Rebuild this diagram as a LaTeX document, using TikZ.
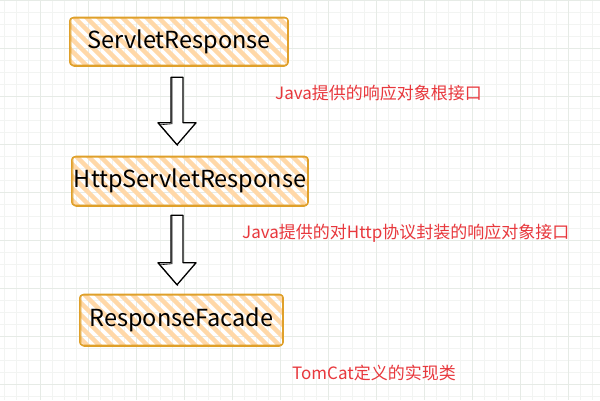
\documentclass[tikz,border=0pt]{standalone}
\usepackage{fontspec}
\setmainfont{Noto Sans CJK SC}
\usetikzlibrary{calc}
\definecolor{gridminor}{HTML}{F2F4F2}
\definecolor{gridmajor}{HTML}{E6EBE6}
\definecolor{boxline}{HTML}{DFA02A}
\definecolor{hatch}{HTML}{FFD8A8}
\definecolor{notered}{HTML}{E8383D}
\tikzset{
  stripebox/.style={rounded corners=3pt, inner sep=0pt, font=\fontsize{23.5}{25}\selectfont,
    path picture={
      \foreach \i in {-6,...,26}
        \draw[hatch, line width=4.5pt]
          ($(path picture bounding box.north west)+(\i*12,-5)$) -- ++(70,70);
    }},
  boxborder/.style={draw=boxline, line width=1.4pt, rounded corners=3pt},
  note/.style={text=notered, font=\fontsize{17}{19}\selectfont, anchor=west, inner sep=0pt},
  blockarrow/.style={draw=black, line width=1.3pt, fill=white, line join=round},
}
\newcommand{\sketchbox}[1]{%
  \draw[boxborder] (#1.north west) rectangle (#1.south east);
  \draw[boxborder, line width=0.7pt] ($(#1.north west)+(1.2,-0.8)$) rectangle ($(#1.south east)+(-0.8,1.2)$);
}
\newcommand{\downarrowblock}[2]{%
  \draw[blockarrow] ($(#1)+(-6,0)$) -- ($(#1)+(6,0)$) -- ($(#2)+(6,-22)$) -- ($(#2)+(19,-22)$)
    -- (#2) -- ($(#2)+(-19,-22)$) -- ($(#2)+(-6,-22)$) -- cycle;
  \draw[black, line width=0.6pt] ($(#1)+(-5,1)$) -- ($(#2)+(-5,-21)$) -- ($(#2)+(-17,-20)$) -- ($(#2)+(1,1)$);
}
\begin{document}
\begin{tikzpicture}[x=1pt, y=-1pt]
  \useasboundingbox (0,0) rectangle (600,400);
  \fill[white] (0,0) rectangle (600,400);
  % grid
  \foreach \x in {4,16,...,600} \draw[gridminor, line width=0.6pt] (\x,0) -- (\x,400);
  \foreach \y in {0,12,...,400} \draw[gridminor, line width=0.6pt] (0,\y) -- (600,\y);
  \foreach \x in {40,88,...,600} \draw[gridmajor, line width=0.8pt] (\x,0) -- (\x,400);
  \foreach \y in {0,48,...,400} \draw[gridmajor, line width=0.8pt] (0,\y) -- (600,\y);

  % boxes
  \node[stripebox, minimum width=218pt, minimum height=47pt] (b1) at (179,41.5) {ServletResponse};
  \node[stripebox, minimum width=236pt, minimum height=48pt] (b2) at (190,181) {HttpServletResponse};
  \node[stripebox, minimum width=203pt, minimum height=50pt] (b3) at (181.5,320) {ResponseFacade};
  \sketchbox{b1}
  \sketchbox{b2}
  \sketchbox{b3}

  % arrows
  \coordinate (ax) at (177,0);
  \coordinate (a1s) at (ax |- {$(b1.south)+(0,12)$});
  \coordinate (a1e) at (ax |- {$(b2.north)+(0,-12)$});
  \coordinate (a2s) at (ax |- {$(b2.south)+(0,10)$});
  \coordinate (a2e) at (ax |- {$(b3.north)+(0,-10)$});
  \downarrowblock{a1s}{a1e}
  \downarrowblock{a2s}{a2e}

  % notes
  \node[note] (n1) at (275,93) {Java提供的响应对象根接口};
  \node[note] (n2) at (242,233) {Java提供的对Http协议封装的响应对象接口};
  \node[note] (n3) at (292,373) {TomCat定义的实现类};
\end{tikzpicture}
\end{document}
